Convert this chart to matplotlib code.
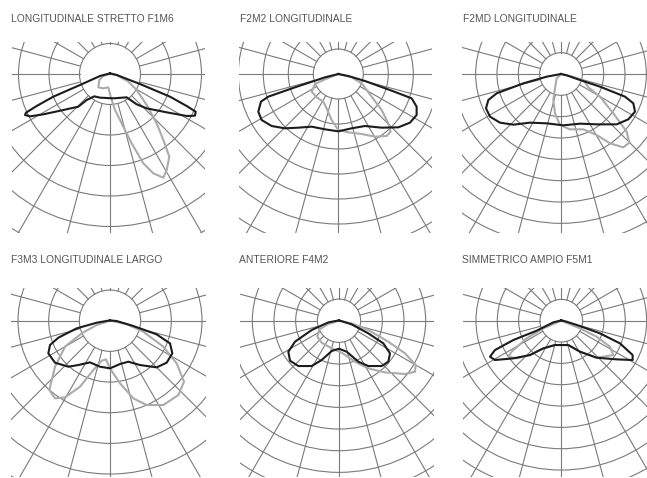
import numpy as np
import matplotlib
matplotlib.use("Agg")
import matplotlib.pyplot as plt
from matplotlib.patches import Circle

plt.rcParams["font.family"] = ["Liberation Sans", "DejaVu Sans"]

W, H = 647, 478
GRID = "#7a7a7a"
DARK = "#1c1c1c"
LIGHT = "#ababab"

titles = ["LONGITUDINALE STRETTO F1M6", "F2M2 LONGITUDINALE", "F2MD LONGITUDINALE",
          "F3M3 LONGITUDINALE LARGO", "ANTERIORE F4M2", "SIMMETRICO AMPIO F5M1"]

# curves (x to the right, y downwards, 3 units = 1 px)
f1_dark_x = [0, -30, -90, -170, -220, -252, -255, -240, -200, -140, -95, -70, -47, -30, 10, 50, 80, 110, 170, 230, 255, 257, 230, 180, 90, 20, 0]
f1_dark_y = [-2, 6, 33, 68, 96, 116, 123, 127, 121, 108, 98, 78, 67, 71, 73, 70, 91, 103, 115, 126, 125, 113, 96, 68, 30, 3, -2]
f1_light_x = [0, -20, -32, -35, -20, -5, 2, 15, 35, 65, 100, 130, 160, 170, 178, 160, 140, 110, 80, 55, 20, 0]
f1_light_y = [0, 6, 18, 40, 43, 40, 68, 108, 148, 208, 268, 298, 311, 288, 248, 198, 148, 93, 48, 23, 3, 0]

f2_dark_x = [0, -40, -130, -210, -232, -240, -230, -200, -160, -120, -80, -40, 0, 40, 80, 130, 180, 215, 235, 235, 220, 160, 80, 30, 0]
f2_dark_y = [0, 10, 40, 68, 83, 113, 138, 156, 163, 161, 158, 166, 172, 163, 156, 161, 160, 146, 123, 98, 73, 50, 21, 6, 0]
f2_light_x = [0, -40, -70, -80, -65, -45, -35, -20, 0, 30, 70, 110, 145, 157, 150, 130, 100, 70, 40, 0]
f2_light_y = [0, 16, 30, 53, 70, 83, 103, 138, 168, 175, 180, 188, 186, 173, 148, 108, 68, 28, 10, 0]

f3_dark_x = [0, -43, -113, -193, -218, -225, -213, -183, -143, -93, -43, 7, 57, 107, 167, 202, 222, 217, 192, 117, 57, 17, 0]
f3_dark_y = [0, 8, 28, 58, 78, 103, 128, 146, 152, 146, 148, 154, 149, 151, 151, 136, 113, 88, 68, 38, 18, 4, 0]
f3_light_x = [0, -13, -18, -23, -18, -3, 27, 67, 107, 147, 187, 205, 197, 157, 117, 82, 67, 27, 0]
f3_light_y = [0, 13, 43, 78, 118, 153, 166, 166, 183, 208, 220, 206, 173, 118, 68, 40, 18, 6, 0]

f4_dark_x = [0, -40, -100, -155, -180, -185, -165, -125, -95, -60, -30, 0, 30, 55, 90, 140, 170, 187, 180, 140, 70, 20, 0]
f4_dark_y = [-1, 6, 23, 51, 73, 98, 126, 138, 133, 125, 138, 143, 130, 123, 133, 140, 126, 98, 68, 41, 16, 1, -1]
f4_light_x = [0, -40, -85, -135, -165, -182, -165, -135, -90, -50, -25, -12, 0, 30, 70, 110, 160, 205, 222, 200, 160, 100, 50, 0]
f4_light_y = [0, 13, 38, 78, 138, 208, 233, 230, 198, 148, 120, 116, 143, 188, 233, 253, 253, 223, 183, 128, 78, 33, 10, 0]

f5_dark_x = [0, -32, -82, -132, -152, -147, -122, -82, -52, -22, 0, 23, 58, 88, 128, 148, 153, 133, 88, 38, 0]
f5_dark_y = [-1, 5, 28, 63, 93, 120, 136, 136, 118, 91, 84, 93, 123, 136, 136, 123, 98, 68, 38, 11, -1]
f5_light_x = [0, -32, -59, -65, -52, -22, 8, 48, 88, 138, 198, 228, 230, 198, 148, 88, 38, 0]
f5_light_y = [0, 10, 26, 48, 66, 83, 96, 123, 143, 155, 160, 153, 133, 98, 63, 28, 8, 0]

f6_dark_x = [0, -24, -74, -144, -199, -214, -199, -144, -94, -54, -19, 21, 56, 106, 166, 214, 214, 176, 116, 56, 16, 0]
f6_dark_y = [-1, 5, 30, 58, 88, 108, 118, 113, 103, 83, 73, 73, 93, 111, 116, 118, 103, 68, 38, 16, 3, -1]
f6_light_x = [0, -54, -104, -149, -159, -134, -94, -54, -19, 21, 56, 106, 156, 146, 106, 56, 0]
f6_light_y = [0, 23, 53, 93, 108, 113, 103, 83, 73, 73, 93, 111, 103, 78, 48, 23, 0]

dark_x = [f1_dark_x, f2_dark_x, f3_dark_x, f4_dark_x, f5_dark_x, f6_dark_x]
dark_y = [f1_dark_y, f2_dark_y, f3_dark_y, f4_dark_y, f5_dark_y, f6_dark_y]
light_x = [f1_light_x, f2_light_x, f3_light_x, f4_light_x, f5_light_x, f6_light_x]
light_y = [f1_light_y, f2_light_y, f3_light_y, f4_light_y, f5_light_y, f6_light_y]

# ring spacing of each diagram, same units as the curves
ring_step = [91.5, 75, 64, 92, 65, 64]

# layout in pixels
center_x = [110, 338.3, 561, 110, 339, 561.3]
center_y = [74, 74, 74, 320.7, 320.7, 320.7]
left = [12, 239, 462, 11, 240, 463]
right = [205, 432, 647, 206, 434, 647]
top = [41.5, 41.5, 41.5, 288, 288, 288]
bottom = [233, 233, 233, 477, 477, 477]
title_x = [11, 240, 463, 11, 239, 462]
title_y = [19, 19, 19, 260, 260, 260]

fig = plt.figure(figsize=(W / 100, H / 100), dpi=100, facecolor="white")

for i in range(6):
    ax = fig.add_axes([left[i] / W, 1 - bottom[i] / H,
                       (right[i] - left[i]) / W, (bottom[i] - top[i]) / H])
    ax.set_xlim((left[i] - center_x[i]) * 3, (right[i] - center_x[i]) * 3)
    ax.set_ylim((bottom[i] - center_y[i]) * 3, (top[i] - center_y[i]) * 3)
    ax.axis("off")

    step = ring_step[i]
    for k in range(1, 16):
        ax.add_patch(Circle((0, 0), k * step, fill=False, ec=GRID, lw=0.8))
    for a in np.radians(np.arange(0, 360, 15)):
        ax.plot([step * np.cos(a), 16 * step * np.cos(a)],
                [step * np.sin(a), 16 * step * np.sin(a)], color=GRID, lw=0.8)

    ax.plot(light_x[i], light_y[i], color=LIGHT, lw=1.5, solid_joinstyle="round")
    ax.plot(dark_x[i], dark_y[i], color=DARK, lw=1.5, solid_joinstyle="round")

    fig.text(title_x[i] / W, 1 - title_y[i] / H, titles[i], fontsize=7.4, color="#555555",
             ha="left", va="center")

fig.savefig("out.png", dpi=100)
